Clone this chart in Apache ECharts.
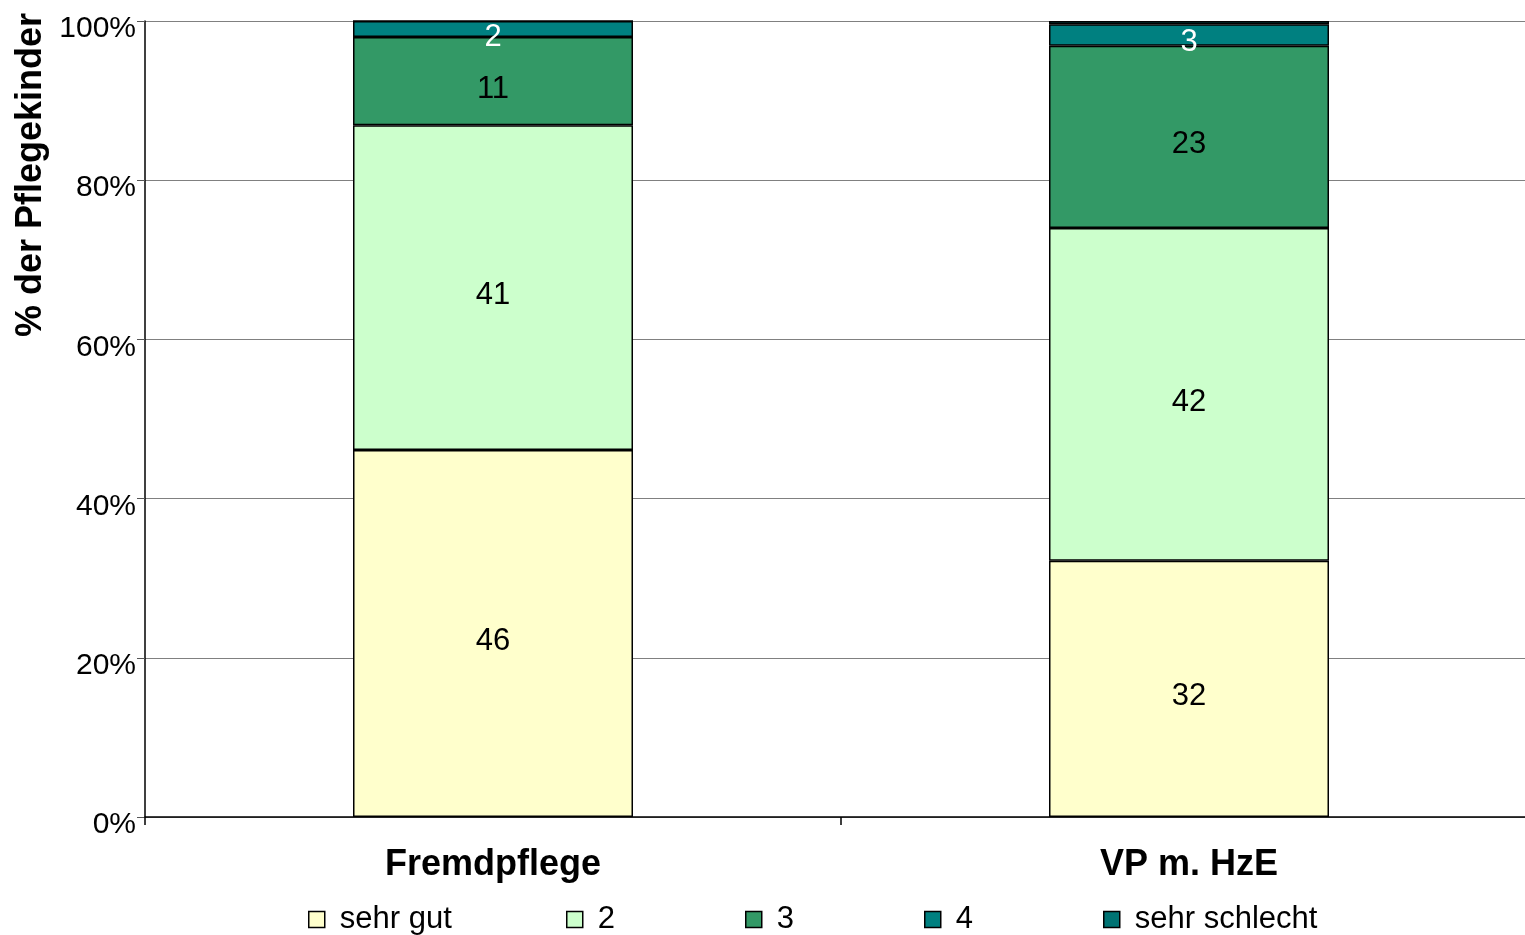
<!DOCTYPE html>
<html>
<head>
<meta charset="utf-8">
<script src="https://cdn.jsdelivr.net/npm/echarts@6/dist/echarts.min.js"></script>
<style>html,body{margin:0;padding:0;background:#fff;overflow:hidden;width:1525px;height:935px;}#c{width:1537px;height:935px;}</style>
</head>
<body>
<div id="c"></div>
<script>
var categories = ['Fremdpflege', 'VP m. HzE'];
var seriesNames = ['sehr gut', '2', '3', '4', 'sehr schlecht'];
var sehrGut = [46.1, 32.2];
var zwei = [40.8, 41.8];
var drei = [11.1, 22.9];
var vier = [2.0, 2.7];
var sehrSchlecht = [0, 0.4];
var yTicks = [0, 20, 40, 60, 80, 100];
var colors = ['#FFFFCC', '#CCFFCC', '#339966', '#008080', '#007373'];
var labelColors = ['#000', '#000', '#000', '#fff', '#fff'];
var values = [sehrGut, zwei, drei, vier, sehrSchlecht];
var font = 'Liberation Sans, Arial, sans-serif';

var chart = echarts.init(document.getElementById('c'));
var series = seriesNames.map(function (n, i) {
  return {
    name: n, type: 'bar', stack: 'total', barWidth: 280,
    data: values[i],
    itemStyle: { color: colors[i], borderColor: '#000', borderWidth: 1.5 },
    label: {
      show: true, position: 'inside', color: labelColors[i], fontSize: 31, fontFamily: font,
      formatter: function (p) { return p.value >= 1 ? String(Math.round(p.value)) : ''; },
      offset: [0, 8]
    }
  };
});
var legendLefts = [308, 566, 745, 924, 1103];
var legends = seriesNames.map(function (n, i) {
  return {
    data: [n], left: legendLefts[i], top: 904, padding: 0, itemWidth: 16, itemHeight: 16, itemGap: 0,
    icon: 'rect', textStyle: { fontSize: 31, fontFamily: font, color: '#000', padding: [0, 0, 0, 10] },
    itemStyle: { borderColor: '#000', borderWidth: 1.5 }, selectedMode: false
  };
});
chart.setOption({
  animation: false,
  backgroundColor: '#fff',
  grid: { left: 145, right: 0, top: 21, bottom: 118, containLabel: false },
  legend: legends,
  graphic: [{
    type: 'text', x: 31, y: 175, rotation: Math.PI / 2,
    style: { text: '% der Pflegekinder', font: 'bold 36px ' + font, fill: '#000', align: 'center', verticalAlign: 'middle' }
  }],
  xAxis: {
    type: 'category', data: categories,
    axisLine: { lineStyle: { color: '#000', width: 1.5 } },
    axisTick: { show: true, length: 8, lineStyle: { color: '#000', width: 1.5 } },
    axisLabel: { fontSize: 36, fontWeight: 'bold', fontFamily: font, color: '#000', margin: 30 }
  },
  yAxis: {
    type: 'value', min: 0, max: 100, interval: 20,
    axisLine: { show: true, lineStyle: { color: '#000', width: 1.5 } },
    axisTick: { show: true, length: 8, lineStyle: { color: '#555' } },
    axisLabel: { fontSize: 30, fontFamily: font, color: '#000', margin: 9, verticalAlign: 'top', lineHeight: 16,
      formatter: function (v) { return yTicks.indexOf(v) >= 0 ? v + '%' : ''; } },
    splitLine: { lineStyle: { color: '#808080', width: 1 } }
  },
  series: series
});
</script>
</body>
</html>
